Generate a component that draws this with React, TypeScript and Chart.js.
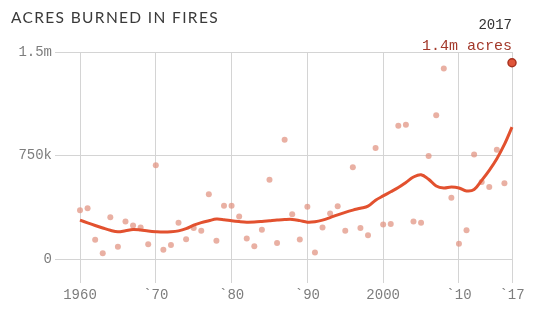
import React, { useEffect, useRef } from 'react';
import { Chart, registerables } from 'chart.js';

Chart.register(...registerables);

const years = [
  1960, 1961, 1962, 1963, 1964, 1965, 1966, 1967, 1968, 1969,
  1970, 1971, 1972, 1973, 1974, 1975, 1976, 1977, 1978, 1979,
  1980, 1981, 1982, 1983, 1984, 1985, 1986, 1987, 1988, 1989,
  1990, 1991, 1992, 1993, 1994, 1995, 1996, 1997, 1998, 1999,
  2000, 2001, 2002, 2003, 2004, 2005, 2006, 2007, 2008, 2009,
  2010, 2011, 2012, 2013, 2014, 2015, 2016, 2017,
];

// acres burned, thousands
const acresK = [
  354, 368, 139, 41, 303, 89, 272, 243, 229, 106,
  679, 67, 101, 262, 144, 225, 204, 469, 132, 385,
  385, 308, 149, 92, 212, 575, 116, 865, 325, 142,
  378, 48, 229, 330, 383, 204, 664, 224, 173, 804,
  250, 253, 965, 972, 272, 262, 746, 1042, 1381, 443,
  110, 209, 758, 558, 522, 792, 549, 1422,
];

// smoothed trend, thousands
const trendK = [
  282, 262, 243, 225, 208, 197, 205, 214, 210, 203,
  198, 195, 197, 204, 220, 245, 264, 277, 289, 285,
  277, 271, 267, 268, 272, 277, 282, 286, 287, 278,
  267, 270, 282, 300, 320, 338, 354, 368, 383, 426,
  457, 487, 518, 555, 594, 611, 578, 529, 515, 522,
  515, 493, 503, 570, 643, 727, 830, 955,
];

const xTickValues = [1960, 1970, 1980, 1990, 2000, 2010, 2017];
const xTickLabels = ['1960', '`70', '`80', '`90', '2000', '`10', '`17'];
const yTickValues = [0, 750000, 1500000];
const yTickLabels = ['0', '750k', '1.5m'];

const highlightYear = 2017;
const highlightTop = '2017';
const highlightBottom = '1.4m acres';
const title = 'ACRES BURNED IN FIRES';

const W = 534;
const H = 318;

export default function App() {
  const ref = useRef<HTMLCanvasElement | null>(null);

  useEffect(() => {
    document.body.style.margin = '0';
    const canvas = ref.current;
    if (!canvas) return;

    const lastIdx = years.indexOf(highlightYear);
    const pts = years
      .map((y, i) => ({ x: y, y: acresK[i] * 1000 }))
      .filter((p) => p.x !== highlightYear);
    const trend = years.map((y, i) => ({ x: y, y: trendK[i] * 1000 }));
    const hi = [{ x: highlightYear, y: acresK[lastIdx] * 1000 }];

    const annot = {
      id: 'annot',
      afterDatasetsDraw(chart: any) {
        const ctx = chart.ctx;
        const xs = chart.scales.x;
        const px = xs.getPixelForValue(highlightYear);
        ctx.save();
        ctx.textAlign = 'right';
        ctx.textBaseline = 'middle';
        ctx.font = '14px "Liberation Mono", monospace';
        ctx.fillStyle = '#333333';
        ctx.fillText(highlightTop, px, 25);
        ctx.font = '15px "Liberation Mono", monospace';
        ctx.fillStyle = '#a3392b';
        ctx.fillText(highlightBottom, px, 46);
        ctx.restore();
      },
    };

    const gridColor = '#d4d4d4';
    const tickFont = { family: '"Liberation Mono", monospace', size: 14 };

    const chart = new Chart(canvas, {
      type: 'scatter',
      data: {
        datasets: [
          {
            type: 'scatter',
            data: hi,
            backgroundColor: '#e0553a',
            borderColor: '#a8321f',
            borderWidth: 1.5,
            pointRadius: 4,
            order: 0,
            clip: false as any,
          },
          {
            type: 'line',
            data: trend,
            borderColor: '#e2512f',
            borderWidth: 3,
            pointRadius: 0,
            tension: 0.35,
            fill: false,
            order: 1,
            clip: false as any,
          },
          {
            type: 'scatter',
            data: pts,
            backgroundColor: 'rgba(224,146,128,0.72)',
            borderWidth: 0,
            pointRadius: 3,
            order: 2,
            clip: false as any,
          },
        ],
      },
      options: {
        animation: false,
        responsive: false,
        events: [],
        layout: { padding: { top: 52, right: 22, left: 0, bottom: 0 } },
        plugins: {
          legend: { display: false },
          tooltip: { enabled: false },
          title: { display: false },
        },
        scales: {
          x: {
            type: 'linear',
            min: 1960,
            max: 2017,
            afterBuildTicks: (s: any) => {
              s.ticks = xTickValues.map((v) => ({ value: v }));
            },
            afterFit: (s: any) => {
              s.height = 59;
            },
            border: { display: false },
            grid: {
              color: gridColor,
              tickColor: gridColor,
              tickLength: 24,
              lineWidth: 1,
            },
            ticks: {
              autoSkip: false,
              maxRotation: 0,
              padding: 4,
              color: '#7d7d7d',
              font: tickFont,
              callback: (v: any) => xTickLabels[xTickValues.indexOf(Number(v))] ?? '',
            },
          },
          y: {
            type: 'linear',
            min: 0,
            max: 1500000,
            afterBuildTicks: (s: any) => {
              s.ticks = yTickValues.map((v) => ({ value: v }));
            },
            afterFit: (s: any) => {
              s.width = 80;
            },
            border: { display: false },
            grid: {
              color: gridColor,
              tickColor: gridColor,
              tickLength: 25,
              lineWidth: 1,
            },
            ticks: {
              padding: 3,
              color: '#7d7d7d',
              font: tickFont,
              callback: (v: any) => yTickLabels[yTickValues.indexOf(Number(v))] ?? '',
            },
          },
        },
      },
      plugins: [annot],
    } as any);

    return () => chart.destroy();
  }, []);

  return (
    <div style={{ position: 'absolute', left: 0, top: 0, width: W, height: H, background: '#fff' }}>
      <canvas ref={ref} width={W} height={H} style={{ display: 'block', width: W, height: H }} />
      <div
        style={{
          position: 'absolute',
          left: 11,
          top: 7,
          fontFamily: 'Lato, "Noto Sans", sans-serif',
          fontSize: 15.5,
          letterSpacing: '1.35px',
          color: '#3a3a3a',
          lineHeight: '20px',
          whiteSpace: 'nowrap',
        }}
      >
        {title}
      </div>
    </div>
  );
}
